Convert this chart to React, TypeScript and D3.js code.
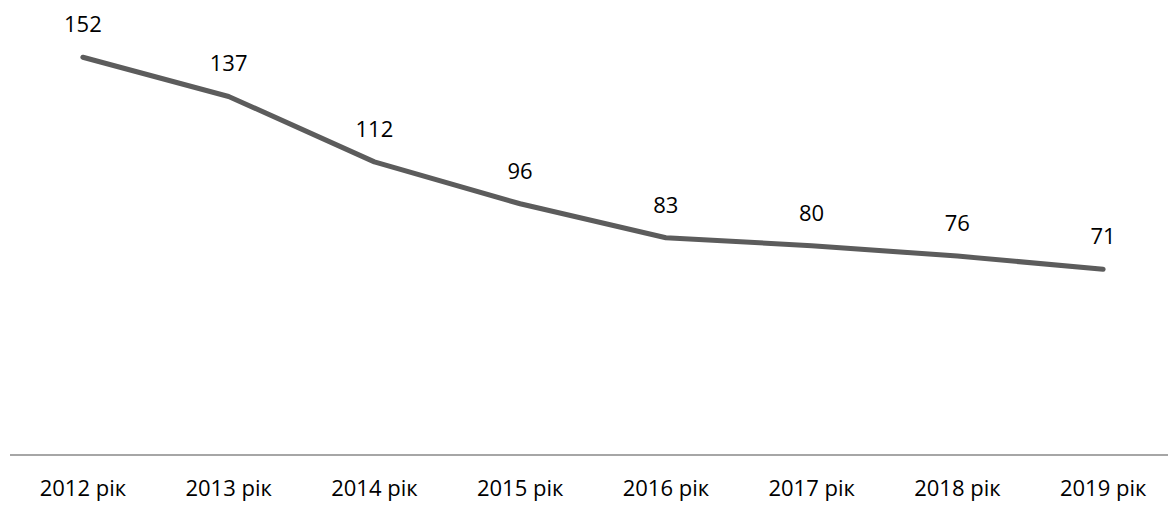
import * as d3 from "d3";

const categories = ["2012 рік", "2013 рік", "2014 рік", "2015 рік", "2016 рік", "2017 рік", "2018 рік", "2019 рік"];
const values = [152, 137, 112, 96, 83, 80, 76, 71];

const W = 1168;
const H = 505;
const axisY = 455;

const App = () => {
  const x = d3.scaleBand<string>().domain(categories).range([10, 1176]);
  const y = d3.scaleLinear().domain([0, 160]).range([axisY, axisY - 160 * 2.617]);

  const data = categories.map((c, i) => ({ c, v: values[i] }));
  const line = d3
    .line<{ c: string; v: number }>()
    .x((d) => (x(d.c) || 0) + x.bandwidth() / 2)
    .y((d) => y(d.v));

  const font = "'Open Sans', sans-serif";

  return (
    <svg
      width={W}
      height={H}
      style={{ position: "absolute", left: 0, top: 0, background: "#fff" }}
    >
      <line x1={10} x2={1168} y1={axisY} y2={axisY} stroke="#a6a6a6" strokeWidth={2} />
      <path
        d={line(data) || ""}
        fill="none"
        stroke="#5c5c5c"
        strokeWidth={5}
        strokeLinecap="round"
        strokeLinejoin="round"
      />
      {data.map((d) => (
        <text
          key={"v" + d.c}
          x={(x(d.c) || 0) + x.bandwidth() / 2}
          y={y(d.v) - 25}
          textAnchor="middle"
          fontFamily={font}
          fontSize={22}
          fill="#000"
        >
          {d.v}
        </text>
      ))}
      {categories.map((c) => (
        <text
          key={c}
          x={(x(c) || 0) + x.bandwidth() / 2}
          y={496}
          textAnchor="middle"
          fontFamily={font}
          fontSize={22}
          fill="#000"
        >
          {c}
        </text>
      ))}
    </svg>
  );
};

export default App;
